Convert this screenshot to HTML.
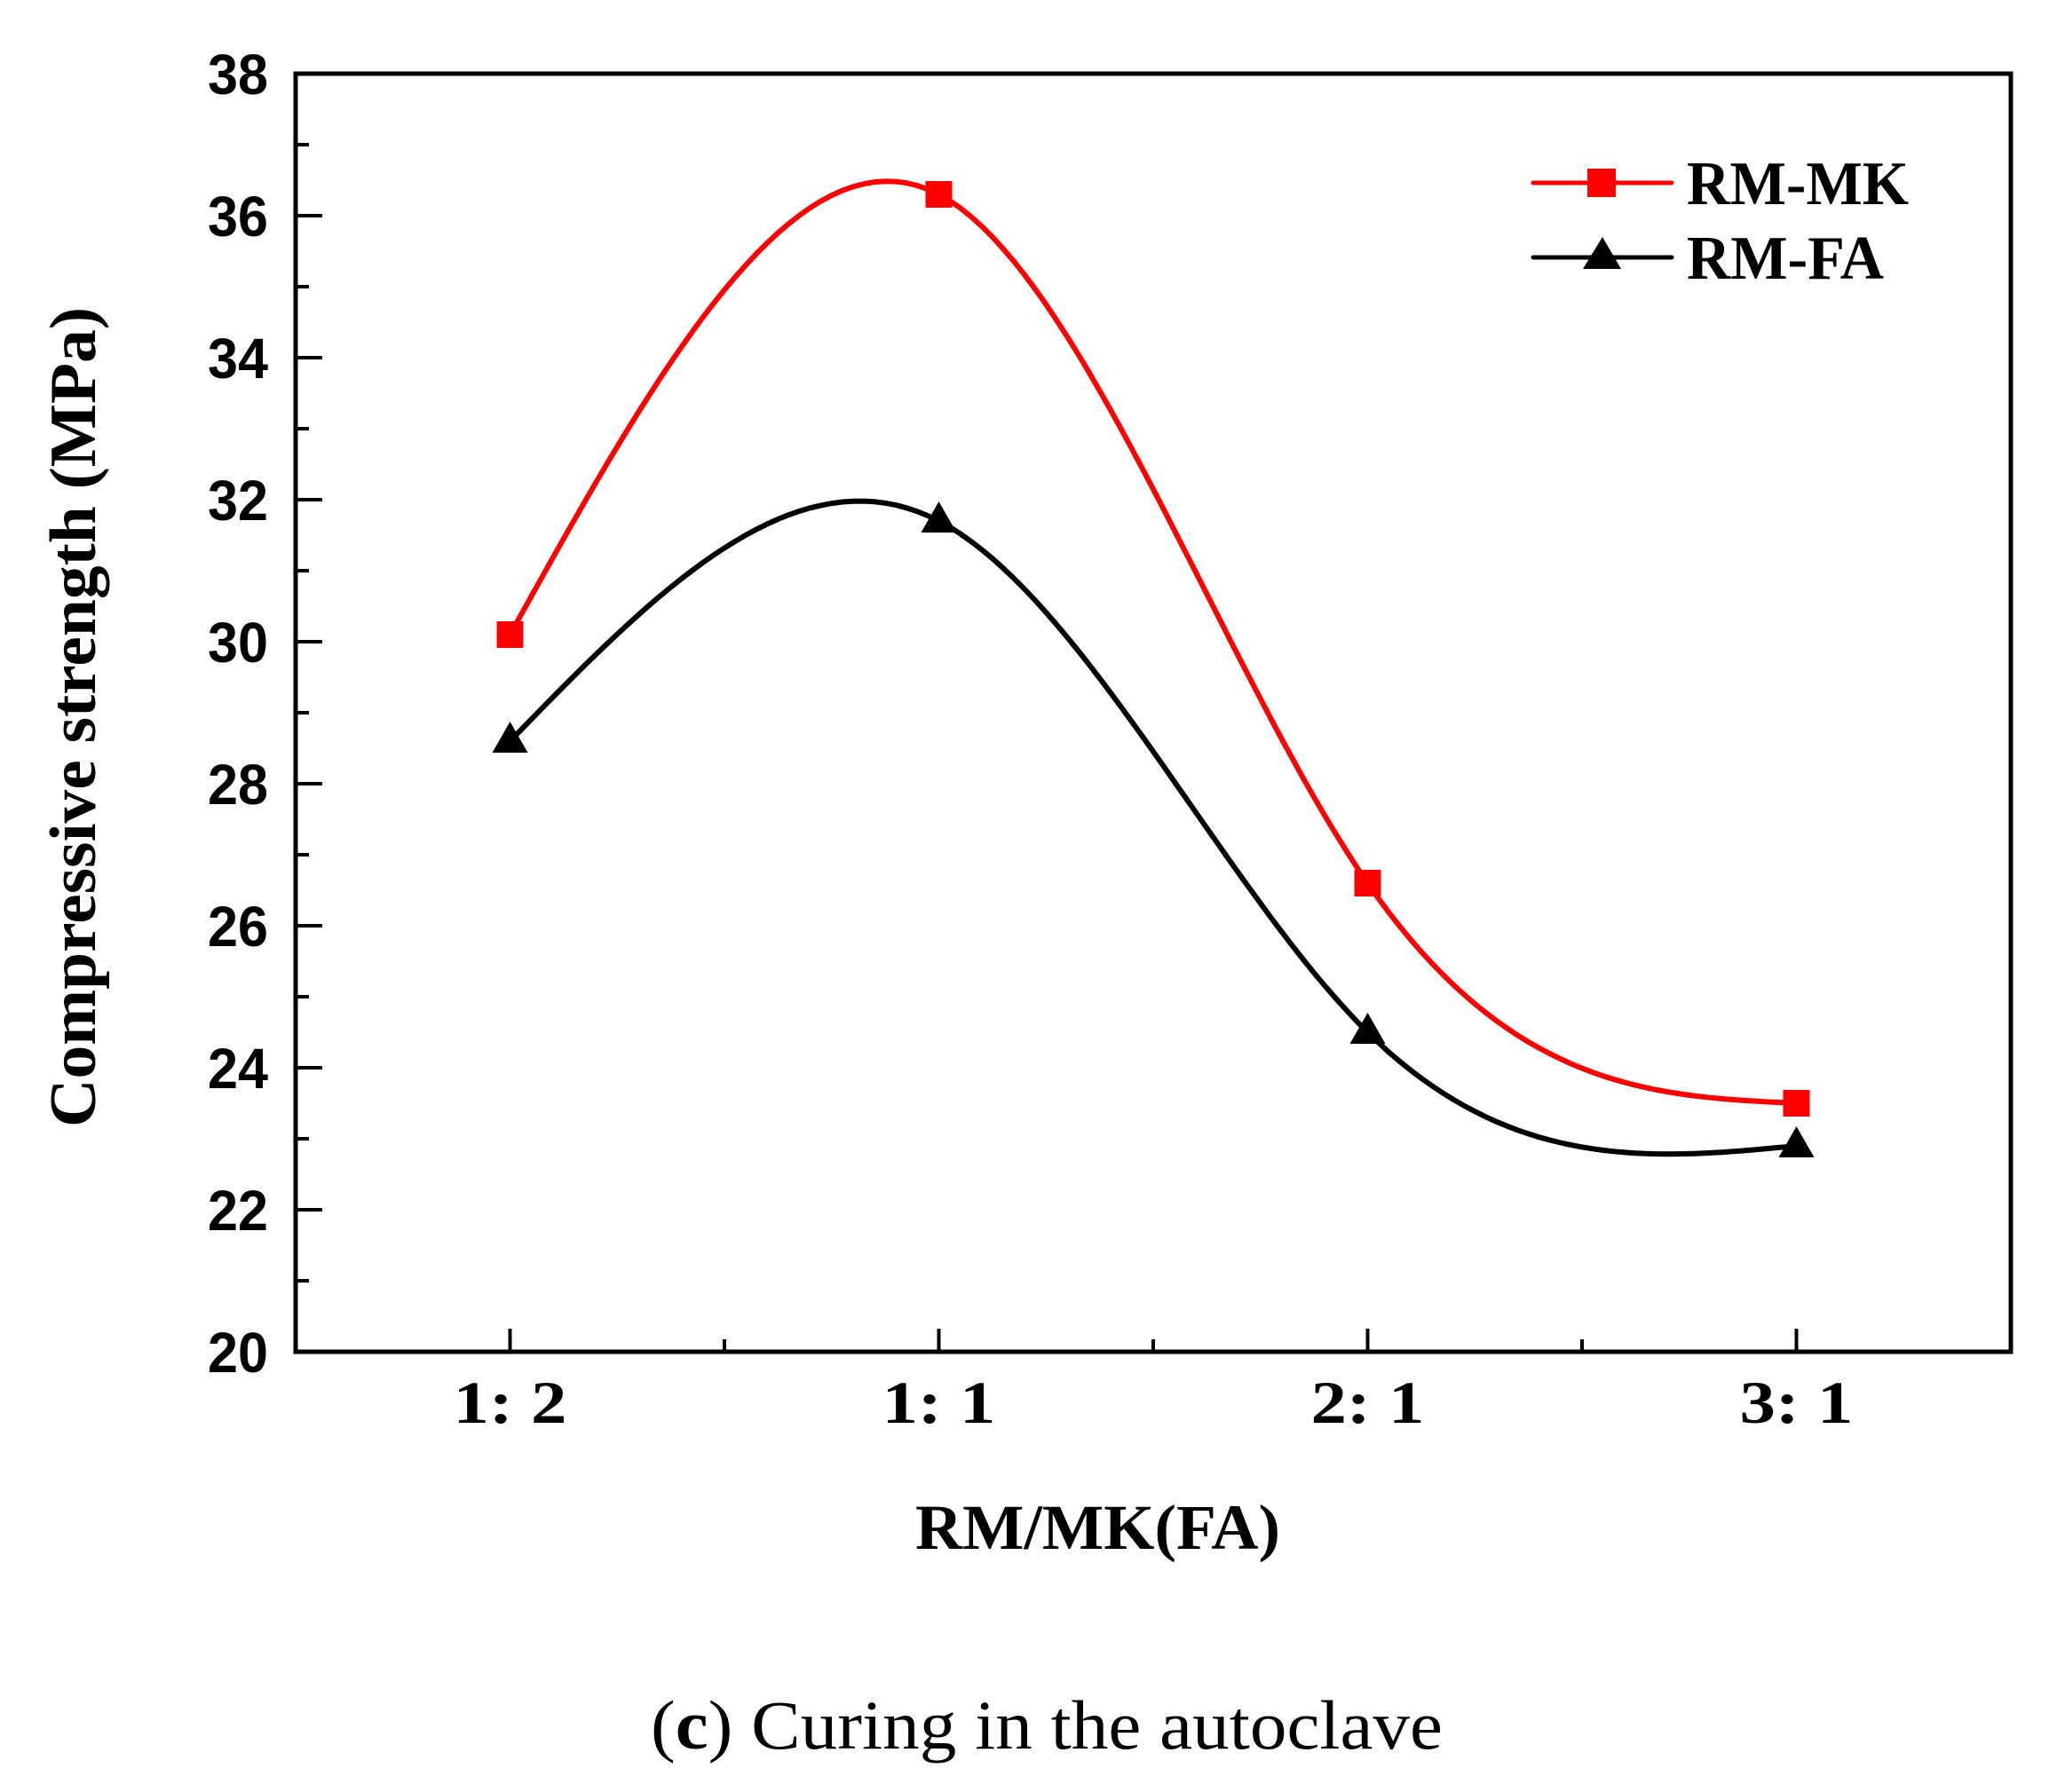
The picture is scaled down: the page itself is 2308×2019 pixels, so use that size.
<!DOCTYPE html>
<html><head><meta charset="utf-8">
<style>
html,body{margin:0;padding:0;background:#fff;}
svg{display:block;}
</style></head>
<body>
<svg id="chart" width="2308" height="2019" viewBox="0 0 2308 2019" xmlns="http://www.w3.org/2000/svg">
<rect x="0" y="0" width="2308" height="2019" fill="#fff"/>
<text transform="translate(107,808) rotate(-90)" text-anchor="middle" font-family="Liberation Serif, serif" font-weight="bold" font-size="74" textLength="924" lengthAdjust="spacingAndGlyphs">Compressive strength (MPa)</text>
<text x="1031" y="1745" font-family="Liberation Serif, serif" font-weight="bold" font-size="72" textLength="411" lengthAdjust="spacingAndGlyphs">RM/MK(FA)</text>
<text x="733" y="1970" font-family="Liberation Serif, serif" font-size="78" textLength="892" lengthAdjust="spacingAndGlyphs">(<tspan font-weight="bold">c</tspan>) Curing in the autoclave</text>
<g>
  <line x1="1727" y1="206" x2="1883" y2="206" stroke="#ff0000" stroke-width="5" stroke-linecap="round"/>
  <rect x="1788" y="190" width="32" height="32" fill="#ff0000"/>
  <text x="1900" y="230" font-family="Liberation Serif, serif" font-weight="bold" font-size="70" textLength="250" lengthAdjust="spacingAndGlyphs">RM-MK</text>
  <line x1="1727" y1="290" x2="1883" y2="290" stroke="#000" stroke-width="5" stroke-linecap="round"/>
  <polygon points="1805,267 1826,303 1783,303" fill="#000"/>
  <text x="1900" y="314" font-family="Liberation Serif, serif" font-weight="bold" font-size="70" textLength="222" lengthAdjust="spacingAndGlyphs">RM-FA</text>
</g>
</svg>
<script>
const categories = ["1:  2", "1:  1", "2:  1", "3:  1"];
const mkValues = [30.1, 36.3, 26.6, 23.5];
const faValues = [28.6, 31.7, 24.5, 22.9];
const yTicks = [20, 22, 24, 26, 28, 30, 32, 34, 36, 38];

const NS = "http://www.w3.org/2000/svg";
const svg = document.getElementById('chart');
const L = 333, R = 2265, T = 83, B = 1523;
const yMin = 20, yMax = 38;
function xs(i){ return L + (i + 0.5) * (R - L) / categories.length; }
function ys(v){ return B - (v - yMin) * (B - T) / (yMax - yMin); }
function mk(tag, attrs){ const e = document.createElementNS(NS, tag); for (const k in attrs) e.setAttribute(k, attrs[k]); svg.appendChild(e); return e; }

yTicks.forEach((v, i) => {
  const y = ys(v);
  if (v > yMin && v < yMax) {
    const t = mk('line', {x1: L, y1: y, x2: L + 30, y2: y, stroke: '#000', 'stroke-width': 4});
    
    
  }
  if (i < yTicks.length - 1) {
    const ym = ys(v + (yTicks[1] - yTicks[0]) / 2);
    const m = mk('line', {x1: L, y1: ym, x2: L + 15, y2: ym, stroke: '#000', 'stroke-width': 4});
    
    
  }
  const lb = mk('text', {x: 302, y: y + 23, 'text-anchor': 'end', 'font-family': 'Liberation Sans, sans-serif', 'font-weight': 'bold', 'font-size': 64, textLength: 68, lengthAdjust: 'spacingAndGlyphs'});
  lb.textContent = v;
  
  
});

categories.forEach((c, i) => {
  const x = xs(i);
  const t = mk('line', {x1: x, y1: B, x2: x, y2: B - 26, stroke: '#000', 'stroke-width': 4});
  
  
  if (i < categories.length - 1) {
    const xm = (xs(i) + xs(i + 1)) / 2;
    const m = mk('line', {x1: xm, y1: B, x2: xm, y2: B - 14, stroke: '#000', 'stroke-width': 4});
    
    
  }
  const lb = mk('text', {x: x, y: 1603, 'text-anchor': 'middle', 'font-family': 'Liberation Serif, serif', 'font-weight': 'bold', 'font-size': 68, textLength: 128, lengthAdjust: 'spacingAndGlyphs', 'xml:space': 'preserve'});
  lb.textContent = c;
  
  
});

const frame = mk('rect', {x: L, y: T, width: R - L, height: B - T, fill: 'none', stroke: '#000', 'stroke-width': 5});



function spline(vals){
  const n = vals.length;
  const M = new Array(n).fill(0);
  const a = [], b = [], c = [], d = [];
  for (let i = 1; i < n - 1; i++) { a.push(1); b.push(4); c.push(1); d.push(6 * (vals[i-1] - 2*vals[i] + vals[i+1])); }
  const m = b.length;
  for (let i = 1; i < m; i++) { const w = a[i] / b[i-1]; b[i] -= w * c[i-1]; d[i] -= w * d[i-1]; }
  const sol = new Array(m);
  for (let i = m - 1; i >= 0; i--) sol[i] = (d[i] - (i < m - 1 ? c[i] * sol[i+1] : 0)) / b[i];
  for (let i = 0; i < m; i++) M[i+1] = sol[i];
  const pts = [];
  for (let i = 0; i < n - 1; i++) {
    for (let k = 0; k <= 40; k++) {
      const t = k / 40;
      const v = M[i]*Math.pow(1-t,3)/6 + M[i+1]*Math.pow(t,3)/6 + (vals[i]-M[i]/6)*(1-t) + (vals[i+1]-M[i+1]/6)*t;
      pts.push([xs(i + t), ys(v)]);
    }
  }
  return 'M' + pts.map(p => p[0].toFixed(1) + ',' + p[1].toFixed(1)).join(' L');
}

const faPath = mk('path', {d: spline(faValues), fill: 'none', stroke: '#000', 'stroke-width': 6});


const mkPath = mk('path', {d: spline(mkValues), fill: 'none', stroke: '#ff0000', 'stroke-width': 6});



mkValues.forEach((v, i) => {
  const s = mk('rect', {x: xs(i) - 15, y: ys(v) - 15, width: 30, height: 30, fill: '#ff0000'});
  
  
});
faValues.forEach((v, i) => {
  const x = xs(i), y = ys(v);
  const p = mk('polygon', {points: `${x},${y-22} ${x+20},${y+13} ${x-20},${y+13}`, fill: '#000'});
  
  
});
</script>
</body></html>
